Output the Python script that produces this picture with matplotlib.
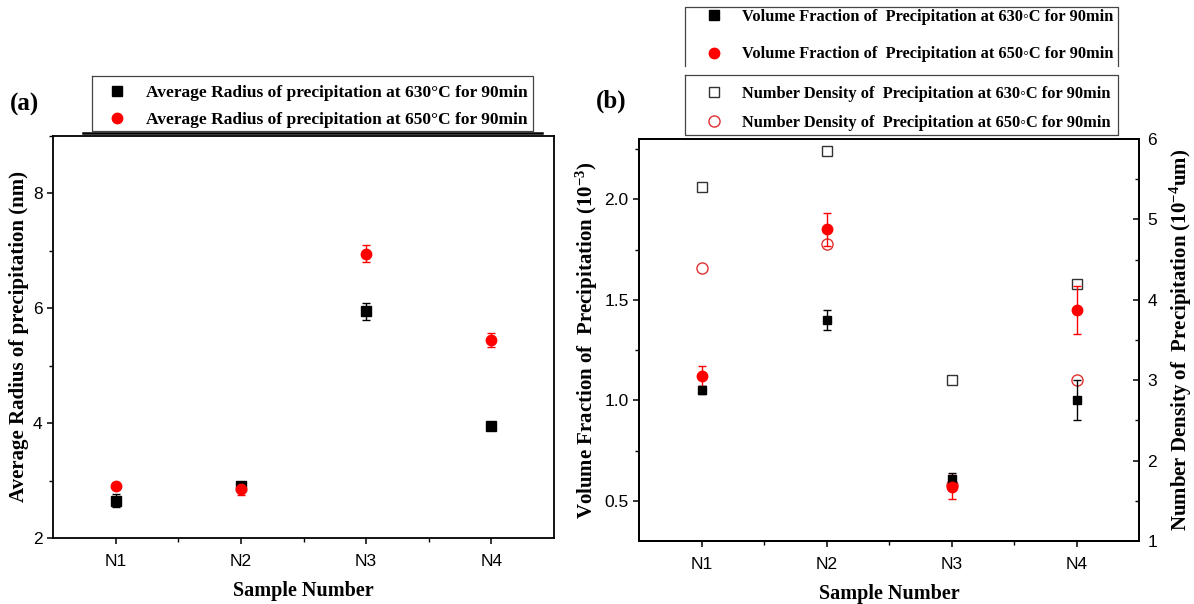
import matplotlib
matplotlib.use("Agg")
import matplotlib.pyplot as plt
from matplotlib.lines import Line2D
from matplotlib.ticker import MultipleLocator

# ---- data ----
samples = ["N1", "N2", "N3", "N4"]

radius_630 = [2.65, 2.90, 5.95, 3.95]
radius_630_err = [0.11, 0.04, 0.15, 0.04]
radius_650 = [2.90, 2.85, 6.95, 5.45]
radius_650_err = [0.04, 0.10, 0.15, 0.12]

vf_630 = [1.05, 1.40, 0.61, 1.00]
vf_630_err = [0.02, 0.05, 0.03, 0.10]
vf_650 = [1.12, 1.85, 0.57, 1.45]
vf_650_err = [0.05, 0.08, 0.06, 0.12]

nd_630 = [5.40, 5.85, 3.00, 4.20]
nd_650 = [4.40, 4.70, 1.70, 3.00]

leg_a = ["Average Radius of precipitation at 630\u00b0C for 90min",
         "Average Radius of precipitation at 650\u00b0C for 90min"]
leg_b1 = ["Volume Fraction of  Precipitation at 630\u25e6C for 90min",
          "Volume Fraction of  Precipitation at 650\u25e6C for 90min"]
leg_b2 = ["Number Density of  Precipitation at 630\u25e6C for 90min",
          "Number Density of  Precipitation at 650\u25e6C for 90min"]

# ---- style ----
plt.rcParams["font.family"] = ["Liberation Sans", "DejaVu Sans"]
plt.rcParams["mathtext.fontset"] = "custom"
plt.rcParams["mathtext.rm"] = "Liberation Serif:bold"
plt.rcParams["mathtext.bf"] = "Liberation Serif:bold"
plt.rcParams["mathtext.it"] = "Liberation Serif:bold"
SERIF = ["Liberation Serif", "DejaVu Serif"]
RED = "#ff0000"

W, H = 1194, 604
fig = plt.figure(figsize=(W / 100, H / 100), dpi=100)


def fx(px):
    return px / W


def fy(py):
    return 1 - py / H


def box(x0, y0, x1, y1):
    return [fx(x0), fy(y1), fx(x1) - fx(x0), fy(y0) - fy(y1)]


x = list(range(1, len(samples) + 1))


def style_axis(ax):
    for s in ax.spines.values():
        s.set_linewidth(1.3)
    ax.set_xlim(0.5, 4.5)
    ax.set_xticks(x)
    ax.set_xticklabels(samples)
    ax.set_xticks([1.5, 2.5, 3.5], minor=True)
    ax.tick_params(axis="both", which="major", direction="out", length=4.5,
                   width=1.1, labelsize=12.5, top=False, right=False)
    ax.tick_params(axis="both", which="minor", direction="out", length=2.8,
                   width=1.0, top=False, right=False)
    ax.tick_params(axis="x", which="major", pad=7)
    ax.tick_params(axis="y", which="major", pad=3)
    ax.set_xlabel("Sample Number", family=SERIF, weight="bold", fontsize=14.5,
                  labelpad=9)


# ---- panel (a) ----
axa = fig.add_axes(box(53, 136, 554, 538))
style_axis(axa)
axa.set_ylim(2, 9)
axa.set_yticks([2, 4, 6, 8])
axa.yaxis.set_minor_locator(MultipleLocator(1))
axa.errorbar(x, radius_630, yerr=radius_630_err, fmt="s", color="black",
             ms=6.5, elinewidth=1, capsize=3.2, capthick=1, zorder=3)
axa.errorbar(x, radius_650, yerr=radius_650_err, fmt="o", color=RED,
             ms=7.5, elinewidth=1, capsize=3.2, capthick=1, zorder=3)
axa.set_ylabel("Average Radius of precipitation (nm)", family=SERIF,
               weight="bold", fontsize=15, labelpad=3)

# ---- panel (b) ----
axb = fig.add_axes(box(639, 139, 1139, 541))
style_axis(axb)
axb.set_ylim(0.3, 2.3)
axb.set_yticks([0.5, 1.0, 1.5, 2.0])
axb.yaxis.set_minor_locator(MultipleLocator(0.25))
axb.set_ylabel("Volume Fraction of  Precipitation ($\\mathrm{10^{-3}}$)",
               family=SERIF, weight="bold", fontsize=15, labelpad=3)

axr = axb.twinx()
axr.set_ylim(1, 6)
axr.set_yticks([1, 2, 3, 4, 5, 6])
axr.yaxis.set_minor_locator(MultipleLocator(0.5))
axr.tick_params(axis="y", which="major", direction="in", length=4.5,
                width=1.1, labelsize=12.5, pad=6)
axr.tick_params(axis="y", which="minor", direction="in", length=2.8, width=1.0)
for s in axr.spines.values():
    s.set_linewidth(1.3)
axr.set_ylabel("Number Density of  Precipitation ($\\mathrm{10^{-4}}$um)",
               family=SERIF, weight="bold", fontsize=15, labelpad=8)

axr.plot(x, nd_630, "s", ms=7, mfc="white", mec="#333333", mew=1.0,
         linestyle="none", zorder=2)
axr.plot(x, nd_650, "o", ms=8, mfc="white", mec="#e03030", mew=1.0,
         linestyle="none", zorder=2)
axr.errorbar(x, vf_630, yerr=vf_630_err, fmt="s", color="black", ms=6,
             elinewidth=1, capsize=3.2, capthick=1, zorder=3,
             transform=axb.transData)
axr.errorbar(x, vf_650, yerr=vf_650_err, fmt="o", color=RED, ms=7.5,
             elinewidth=1, capsize=3.2, capthick=1, zorder=3,
             transform=axb.transData)

# ---- panel tags ----
fig.text(fx(10), fy(104), "(a)", family=SERIF, weight="bold", fontsize=18,
         va="center", ha="left")
fig.text(fx(596), fy(101), "(b)", family=SERIF, weight="bold", fontsize=18,
         va="center", ha="left")

# ---- legends ----
def legend(handles, labels, x0, y0, spacing, size):
    lg = fig.legend(handles, labels, loc="upper left",
                    bbox_to_anchor=(fx(x0), fy(y0)), frameon=False,
                    prop={"family": SERIF, "weight": "bold", "size": size},
                    handlelength=1.0, handletextpad=1.2, labelspacing=spacing,
                    borderpad=0, borderaxespad=0)
    return lg


h_sq = Line2D([], [], marker="s", color="black", ls="none", ms=6.5)
h_ci = Line2D([], [], marker="o", color=RED, ls="none", ms=7.5)
h_osq = Line2D([], [], marker="s", mfc="white", mec="#333333", ls="none", ms=7)
h_oci = Line2D([], [], marker="o", mfc="white", mec="#e03030", ls="none", ms=8)

legend([h_sq, h_ci], leg_a, 108, 85, 0.62, 12.5)
legend([h_sq, h_ci], leg_b1, 706, 9, 1.3, 11.8)
legend([h_osq, h_oci], leg_b2, 706, 86, 0.8, 11.8)

# legend frames
def fig_line(xs, ys, lw=1.0, color="#444444"):
    fig.add_artist(Line2D([fx(v) for v in xs], [fy(v) for v in ys],
                          lw=lw, color=color))


fig_line([92, 533, 533, 92, 92], [76, 76, 131, 131, 76], lw=0.9)
fig_line([83, 542], [133.5, 133.5], lw=1.8, color="black")
fig_line([685, 685, 1118, 1118], [66, 7, 7, 66], lw=0.9)
fig_line([685, 1118, 1118, 685, 685], [75, 75, 135, 135, 75], lw=0.9)

fig.savefig("out.png", dpi=100)
